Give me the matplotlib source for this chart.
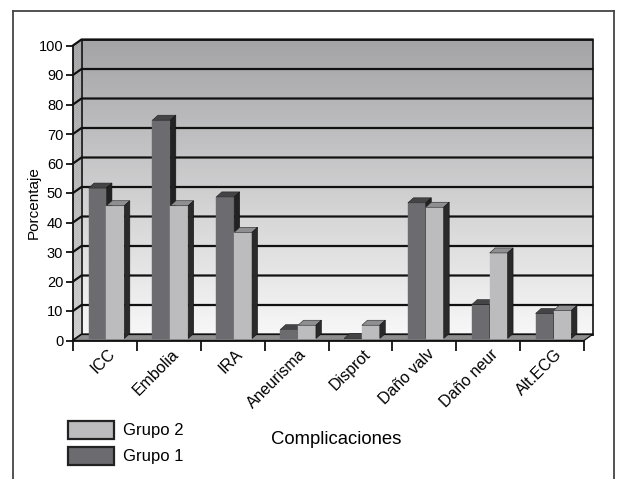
import matplotlib.pyplot as plt
from matplotlib.patches import Polygon, Rectangle
from matplotlib.lines import Line2D
import numpy as np

plt.rcParams['font.family'] = ['Liberation Sans', 'DejaVu Sans']

# datos: porcentaje de complicaciones por grupo
categorias = ['ICC', 'Embolia', 'IRA', 'Aneurisma', 'Disprot',
              'Daño valv', 'Daño neur', 'Alt.ECG']
grupo1 = [51, 74, 48, 3, 0, 46, 11.5, 8.5]
grupo2 = [45, 45, 36, 4.5, 4.5, 44.5, 29, 9.5]
marcas_y = list(range(0, 101, 10))

W, H = 617, 479
fig = plt.figure(figsize=(W / 100, H / 100), dpi=100)

# caja frontal de los ejes en pixeles
x0, x1, y0, y1 = 73, 584, 340.5, 45.5
ax = fig.add_axes([x0 / W, 1 - y0 / H, (x1 - x0) / W, (y0 - y1) / H])
ax.set_xlim(0, len(categorias))
ax.set_ylim(0, 100)
ax.patch.set_visible(False)

ux = len(categorias) / (x1 - x0)   # unidades de datos por pixel
uy = 100 / (y0 - y1)

# profundidad de la pared y de las barras
pdx, pdy = 8.5 * ux, 6 * uy
bdx, bdy = 5.5 * ux, 5 * uy
fdx, fdy = 1.5 * ux, 2 * uy
n = len(categorias)


def poly(pts, fc, ec='none', lw=0, z=1):
    ax.add_patch(Polygon(pts, closed=True, facecolor=fc, edgecolor=ec,
                         linewidth=lw, zorder=z, clip_on=False))


# pared del fondo con degradado
tope = np.array([0.64, 0.64, 0.65])
base = np.array([0.97, 0.97, 0.97])
tiras = 150
for k in range(tiras):
    t = k / tiras
    c = base + (tope - base) * (t + 0.5 / tiras)
    ax.add_patch(Rectangle((pdx, pdy + 100 * t), n, 100 / tiras + 0.05,
                           facecolor=c, edgecolor='none', zorder=1,
                           clip_on=False))
poly([(pdx, pdy), (n + pdx, pdy), (n + pdx, 100 + pdy), (pdx, 100 + pdy)],
     'none', '#111111', 1.2, 3)

# pared lateral
for k in range(tiras):
    t = k / tiras
    c = base * 0.82 + (tope * 0.98 - base * 0.82) * (t + 0.5 / tiras)
    y = 100 * t
    poly([(0, y), (pdx, y + pdy), (pdx, y + pdy + 100 / tiras + 0.05),
          (0, y + 100 / tiras + 0.05)], c, z=1)

# lineas de la cuadricula
for v in marcas_y:
    ax.add_line(Line2D([0, pdx, n + pdx], [v, v + pdy, v + pdy],
                       color='#111111', lw=1.6, zorder=2, clip_on=False))

# piso
poly([(0, 0), (n, 0), (n + pdx, pdy), (pdx, pdy)], '#8e8e8e', '#111111', 0.9, 4)

# barras en 3D
ancho = 0.28
colores = [('#6c6c70', '#444446', '#222222'),
           ('#bcbcbf', '#8f8f91', '#2a2a2a')]
z = 5
for i in range(n):
    for j, valores in enumerate([grupo1, grupo2]):
        v = valores[i]
        xl = i + 0.5 - ancho + j * ancho + fdx
        xr = xl + ancho
        yb, yt = fdy, v + fdy
        frente, arriba, lado = colores[j]
        poly([(xl, yb), (xr, yb), (xr, yt), (xl, yt)], frente, frente, 0.3, z)
        poly([(xl, yt), (xr, yt), (xr + bdx, yt + bdy), (xl + bdx, yt + bdy)],
             arriba, '#222222', 0.4, z)
        poly([(xr, yb), (xr + bdx, yb + bdy), (xr + bdx, yt + bdy), (xr, yt)],
             lado, '#111111', 0.4, z)
        z += 1

# ejes
for s in ['top', 'right']:
    ax.spines[s].set_visible(False)
for s in ['left', 'bottom']:
    ax.spines[s].set_linewidth(1.3)
    ax.spines[s].set_color('#111111')
    ax.spines[s].set_zorder(40)

ax.set_yticks(marcas_y)
ax.tick_params(axis='y', length=5, width=1.3, labelsize=10.5, pad=2,
               color='#111111')
ax.set_xticks(range(n + 1))
ax.set_xticklabels([])
ax.tick_params(axis='x', which='major', length=7, width=1.3, color='#111111')
ax.set_xticks(np.arange(n) + 0.62, minor=True)
ax.set_xticklabels(categorias, minor=True, rotation=45, ha='right',
                   va='center', rotation_mode='anchor', fontsize=11.5)
ax.tick_params(axis='x', which='minor', length=0, pad=8)
ax.set_ylabel('Porcentaje', fontsize=11)
ax.yaxis.set_label_coords(-0.064, 0.466)

# leyenda y titulo del eje x
def fx(px):
    return px / W


def fy(py):
    return 1 - py / H


for (top, color, texto) in [(421, '#bcbcbf', 'Grupo 2'), (447, '#6c6c70', 'Grupo 1')]:
    fig.add_artist(Rectangle((fx(68), fy(top + 18)), fx(114) - fx(68),
                             fy(top) - fy(top + 18), facecolor=color,
                             edgecolor='#222222', linewidth=1.6))
    fig.text(fx(123), fy(top + 9.5), texto, fontsize=12, va='center')

fig.text(fx(271), fy(439), 'Complicaciones', fontsize=13.3, va='center')

# marco exterior
marco = dict(color='#444444', lw=1.3)
fig.add_artist(Line2D([fx(13), fx(13)], [fy(11), 0], **marco))
fig.add_artist(Line2D([fx(13), fx(614)], [fy(11), fy(11)], **marco))
fig.add_artist(Line2D([fx(614), fx(614)], [fy(11), 0], **marco))

plt.savefig('out.png', dpi=100)
